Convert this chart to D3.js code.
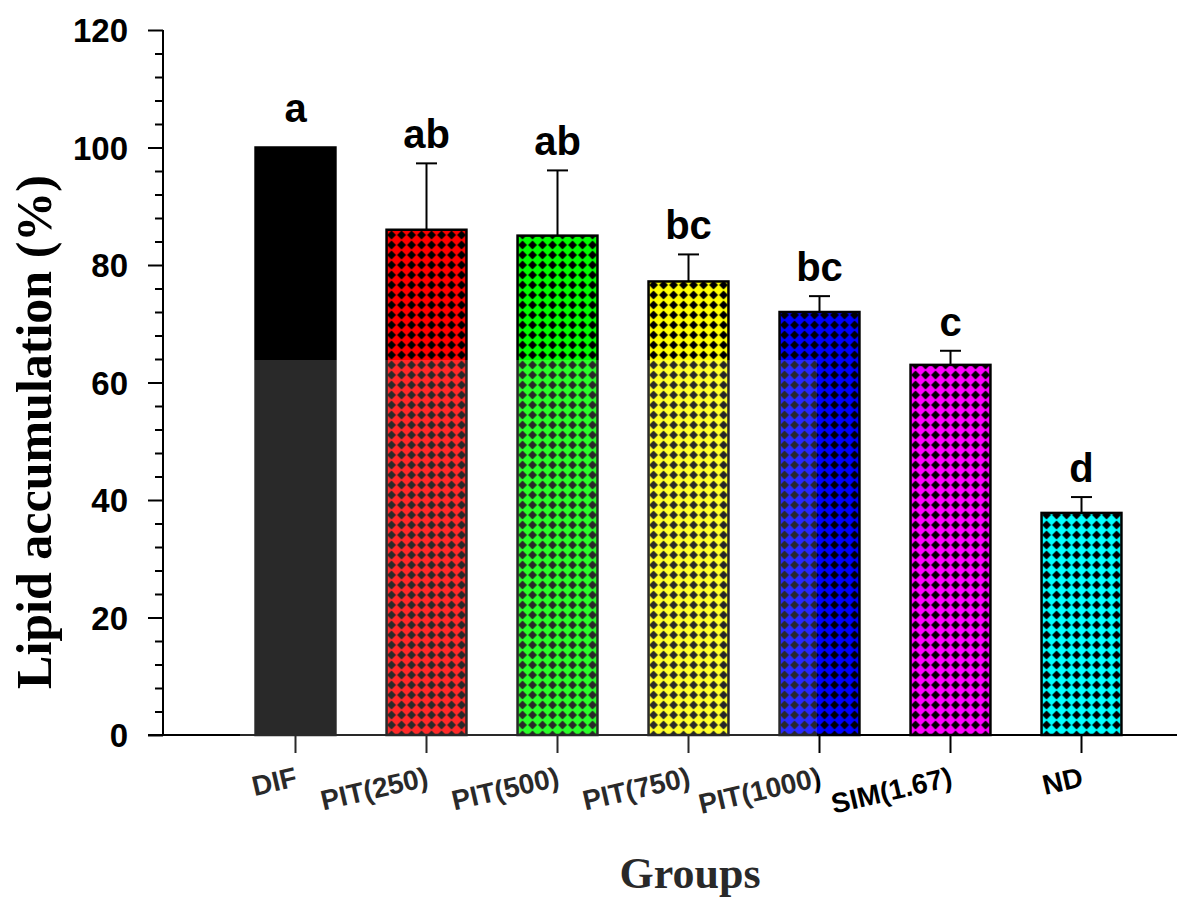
<!DOCTYPE html>
<html>
<head>
<meta charset="utf-8">
<script src="https://cdn.jsdelivr.net/npm/d3@7"></script>
<style>
  html, body { margin: 0; padding: 0; background: #fff; }
  svg { display: block; }
</style>
</head>
<body>
<div id="chart"></div>
<script>
// groups, means, SDs and significance letters
const groups  = ['DIF', 'PIT(250)', 'PIT(500)', 'PIT(750)', 'PIT(1000)', 'SIM(1.67)', 'ND'];
const means   = [100, 86, 85, 77.2, 72, 63, 37.8];
const sds     = [0, 11.3, 11.1, 4.6, 2.7, 2.4, 2.7];
const letters = ['a', 'ab', 'ab', 'bc', 'bc', 'c', 'd'];
const fills   = ['#000000', '#ff0000', '#00ff00', '#ffff00', '#0000ff', '#ff00ff', '#00ffff'];
const yTicks  = [0, 20, 40, 60, 80, 100, 120];

const W = 1177, H = 900;
const svg = d3.select('#chart').append('svg').attr('width', W).attr('height', H);

const x = d3.scaleBand().domain(groups).range([230, 1147]).paddingInner(0.39).paddingOuter(0.195);
const y = d3.scaleLinear().domain([0, 120]).range([735, 30]);
const x0 = 163;

// diamond check patterns, one per colour
const defs = svg.append('defs');
fills.forEach((c, i) => {
  const p = defs.append('pattern').attr('id', 'pat' + i)
    .attr('patternUnits', 'userSpaceOnUse').attr('width', 10).attr('height', 10)
    .attr('x', x(groups[i])).attr('y', 0);
  p.append('rect').attr('width', 10).attr('height', 10).attr('fill', c);
  if (i > 0) p.append('path').attr('d', 'M5,0.6L9.4,5L5,9.4L0.6,5Z').attr('fill', '#000');
});

// bars
svg.append('g').selectAll('rect').data(groups).join('rect')
  .attr('x', d => x(d)).attr('width', x.bandwidth())
  .attr('y', (d, i) => y(means[i])).attr('height', (d, i) => y(0) - y(means[i]))
  .attr('fill', (d, i) => `url(#pat${i})`)
  .attr('stroke', '#000').attr('stroke-width', 2.5);

// error bars
const eb = svg.append('g').attr('stroke', '#000').attr('stroke-width', 2);
groups.forEach((g, i) => {
  if (!sds[i]) return;
  const cx = x(g) + x.bandwidth() / 2;
  eb.append('line').attr('x1', cx).attr('x2', cx).attr('y1', y(means[i])).attr('y2', y(means[i] + sds[i]));
  eb.append('line').attr('x1', cx - 10.5).attr('x2', cx + 10.5).attr('y1', y(means[i] + sds[i])).attr('y2', y(means[i] + sds[i]));
});

// letters
svg.append('g').selectAll('text').data(groups).join('text')
  .attr('x', d => x(d) + x.bandwidth() / 2)
  .attr('y', (d, i) => y(means[i] + sds[i]) - (sds[i] ? 15 : 26))
  .attr('text-anchor', 'middle')
  .attr('font-family', 'Liberation Sans, Arial, sans-serif').attr('font-weight', 'bold')
  .attr('font-size', 40).attr('fill', '#000')
  .text((d, i) => letters[i]);

// y axis
const yAxis = svg.append('g').attr('transform', `translate(${x0},0)`)
  .call(d3.axisLeft(y).tickValues(yTicks).tickSize(15).tickPadding(20));
yAxis.select('.domain').attr('stroke-width', 2).attr('d', `M0,${y(120)}V${y(0)}`);
yAxis.selectAll('.tick line').attr('stroke-width', 2);
yAxis.selectAll('.tick text')
  .attr('font-family', 'Liberation Sans, Arial, sans-serif').attr('font-weight', 'bold')
  .attr('font-size', 33).attr('fill', '#000').attr('dy', '0.36em');
svg.append('g').attr('transform', `translate(${x0},0)`)
  .call(d3.axisLeft(y).tickValues(d3.range(0, 121, 4).filter(v => v % 20)).tickSize(8).tickFormat(''))
  .call(g => g.select('.domain').remove())
  .selectAll('line').attr('stroke-width', 2);

// x axis
const xAxis = svg.append('g').attr('transform', `translate(0,${y(0)})`)
  .call(d3.axisBottom(x).tickSize(18).tickFormat(''));
xAxis.select('.domain').attr('stroke-width', 2).attr('d', 'M148,0H1177');
xAxis.selectAll('.tick line').attr('stroke-width', 2);

svg.append('g').selectAll('text').data(groups).join('text')
  .attr('transform', d => `translate(${x(d) + x.bandwidth() / 2 + 3},786) rotate(-13)`)
  .attr('text-anchor', 'end')
  .attr('font-family', 'Liberation Sans, Arial, sans-serif').attr('font-weight', 'bold')
  .attr('font-size', 28).attr('fill', '#000')
  .text(d => d);

// axis titles
svg.append('text').attr('transform', 'translate(51,432) rotate(-90)')
  .attr('text-anchor', 'middle')
  .attr('font-family', 'Liberation Serif, Times New Roman, serif').attr('font-weight', 'bold')
  .attr('font-size', 50).attr('fill', '#000')
  .text('Lipid accumulation (%)');
svg.append('text').attr('x', 690).attr('y', 888)
  .attr('text-anchor', 'middle')
  .attr('font-family', 'Liberation Serif, Times New Roman, serif').attr('font-weight', 'bold')
  .attr('font-size', 44).attr('fill', '#000')
  .text('Groups');

// faint watermark wash seen in the lower-left of the source image
svg.append('rect').attr('x', 240).attr('y', 360).attr('width', 577).attr('height', 540)
  .attr('fill', '#fff').attr('opacity', 0.16).attr('pointer-events', 'none');
</script>
</body>
</html>
